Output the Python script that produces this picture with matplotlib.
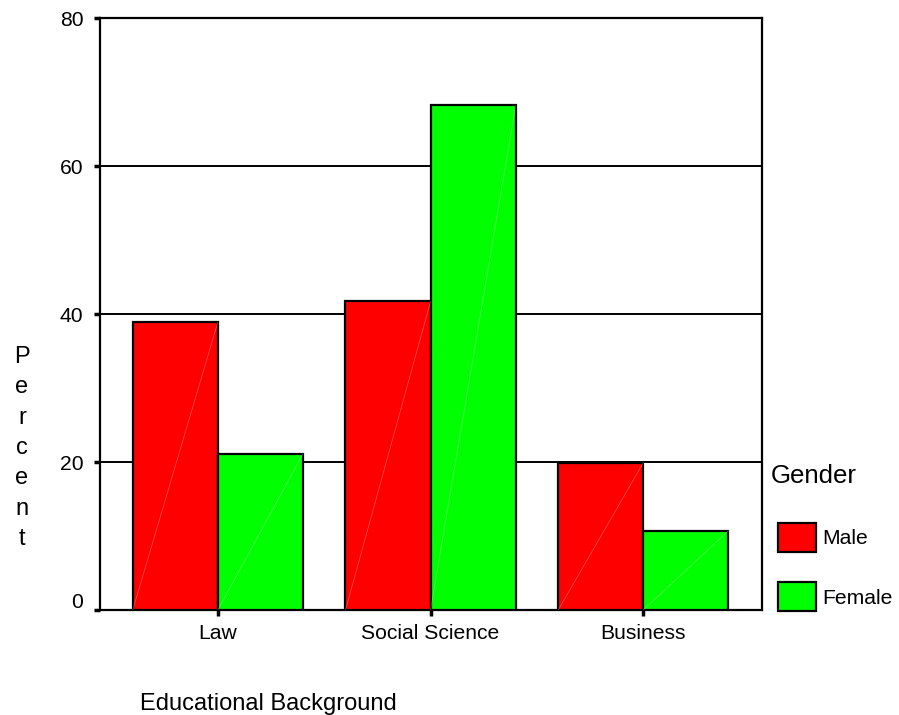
import matplotlib
matplotlib.use('Agg')
import matplotlib.pyplot as plt
import matplotlib.transforms as mtransforms
from matplotlib.patches import Patch
import numpy as np

plt.rcParams['font.family'] = ['Liberation Sans', 'DejaVu Sans']

categories = ['Law', 'Social Science', 'Business']
male = [38.9, 41.7, 19.9]
female = [21.1, 68.2, 10.7]
series_names = ['Male', 'Female']
colors = ['#ff0000', '#00ff00']
yticks = [0, 20, 40, 60, 80]


def main():
    fig = plt.figure(figsize=(8.99, 7.15), dpi=100)
    ax = fig.add_axes([100 / 899, 1 - 610 / 715, 662 / 899, 592 / 715])

    x = np.arange(len(categories))
    w = 0.4
    for vals, off, col in [(male, -w / 2, colors[0]), (female, w / 2, colors[1])]:
        bars = ax.bar(x + off, vals, width=w, color=col, edgecolor='black',
                      linewidth=1.6, zorder=3)
        # faint diagonal seen inside each bar
        for b in bars:
            x0, x1 = b.get_x(), b.get_x() + b.get_width()
            ax.plot([x0, x1], [0, b.get_height()], color='white', lw=0.5,
                    alpha=0.35, zorder=4)

    ax.set_xlim(-0.554, 2.558)
    ax.set_ylim(0, 80)
    ax.set_yticks(yticks)
    ax.set_xticks(x)
    ax.set_xticklabels(categories)
    ax.yaxis.grid(True, color='black', linewidth=1.4, zorder=0)
    ax.set_axisbelow(True)

    for s in ax.spines.values():
        s.set_linewidth(1.6)
    ax.tick_params(axis='both', direction='out', length=4, width=2.5,
                   labelsize=15.2, colors='black')
    ax.tick_params(axis='y', pad=8)
    ax.tick_params(axis='x', pad=6)

    # the "0" label sits a bit above its tick in the reference
    lab0 = ax.get_yticklabels()[0]
    lab0.set_transform(lab0.get_transform() +
                       mtransforms.ScaledTranslation(0, 10 / 100, fig.dpi_scale_trans))

    fig.text(22 / 899, 1 - 448 / 715, '\n'.join('Percent'), fontsize=17,
             ha='center', va='center', linespacing=1.49)
    fig.text(140 / 899, 1 - 710 / 715, 'Educational Background', fontsize=17,
             ha='left', va='baseline')

    fig.text(771 / 899, 1 - 483 / 715, 'Gender', fontsize=18.6,
             ha='left', va='baseline')
    handles = [Patch(facecolor=c, edgecolor='black', linewidth=1.6) for c in colors]
    fig.legend(handles, series_names, loc='upper left',
               bbox_to_anchor=(778 / 899, 1 - 523 / 715), frameon=False,
               fontsize=15.2, handlelength=1.8, handleheight=1.75,
               labelspacing=1.42, handletextpad=0.3, borderpad=0,
               borderaxespad=0)

    fig.savefig('out.png', dpi=100)


if __name__ == '__main__':
    main()
